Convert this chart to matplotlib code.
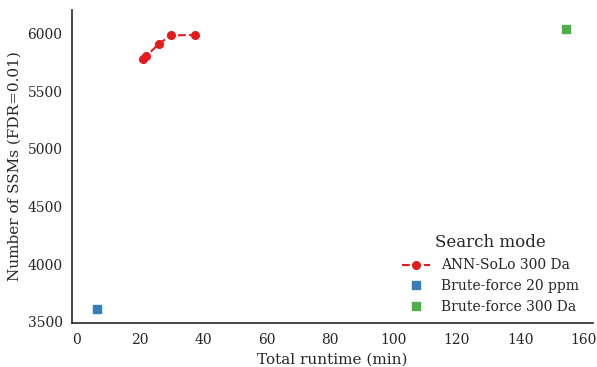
import matplotlib
matplotlib.use('Agg')
import matplotlib.pyplot as plt
import seaborn as sns

# ANN-SoLo runs at different settings
ann_runtime = [20.9, 22.0, 25.9, 29.7, 37.4]
ann_ssms = [5776, 5805, 5909, 5984, 5987]

# brute-force baselines
bf20_runtime = [6.3]
bf20_ssms = [3610]
bf300_runtime = [154.6]
bf300_ssms = [6043]

sns.set_style('white')
plt.rcParams['font.family'] = ['DejaVu Serif']

colors = sns.color_palette('Set1')

fig = plt.figure(figsize=(5.97, 3.67), dpi=100)
ax = fig.add_axes([0.1211, 0.1199, 0.8722, 0.8529])

ax.plot(ann_runtime, ann_ssms, ls='--', marker='o', color=colors[0],
        markersize=5.5, label='ANN-SoLo 300 Da')
ax.plot(bf20_runtime, bf20_ssms, ls='none', marker='s', color=colors[1],
        markersize=6, label='Brute-force 20 ppm')
ax.plot(bf300_runtime, bf300_ssms, ls='none', marker='s', color=colors[2],
        markersize=6, label='Brute-force 300 Da')

ax.set_xlim(-1.4, 163)
ax.set_ylim(3489, 6204)
ax.set_xticks(range(0, 161, 20))
ax.set_yticks(range(3500, 6001, 500))
ax.tick_params(labelsize=10)
ax.set_xlabel('Total runtime (min)', fontsize=11)
ax.set_ylabel('Number of SSMs (FDR=0.01)', fontsize=11)

leg = ax.legend(title='Search mode', loc='lower right', frameon=False,
                fontsize=10, title_fontsize=12,
                bbox_to_anchor=(0.997, -0.012))

sns.despine(ax=ax)
for s in ['left', 'bottom']:
    ax.spines[s].set_color('#262626')
    ax.spines[s].set_linewidth(1.2)

fig.savefig('out.png', dpi=100)
